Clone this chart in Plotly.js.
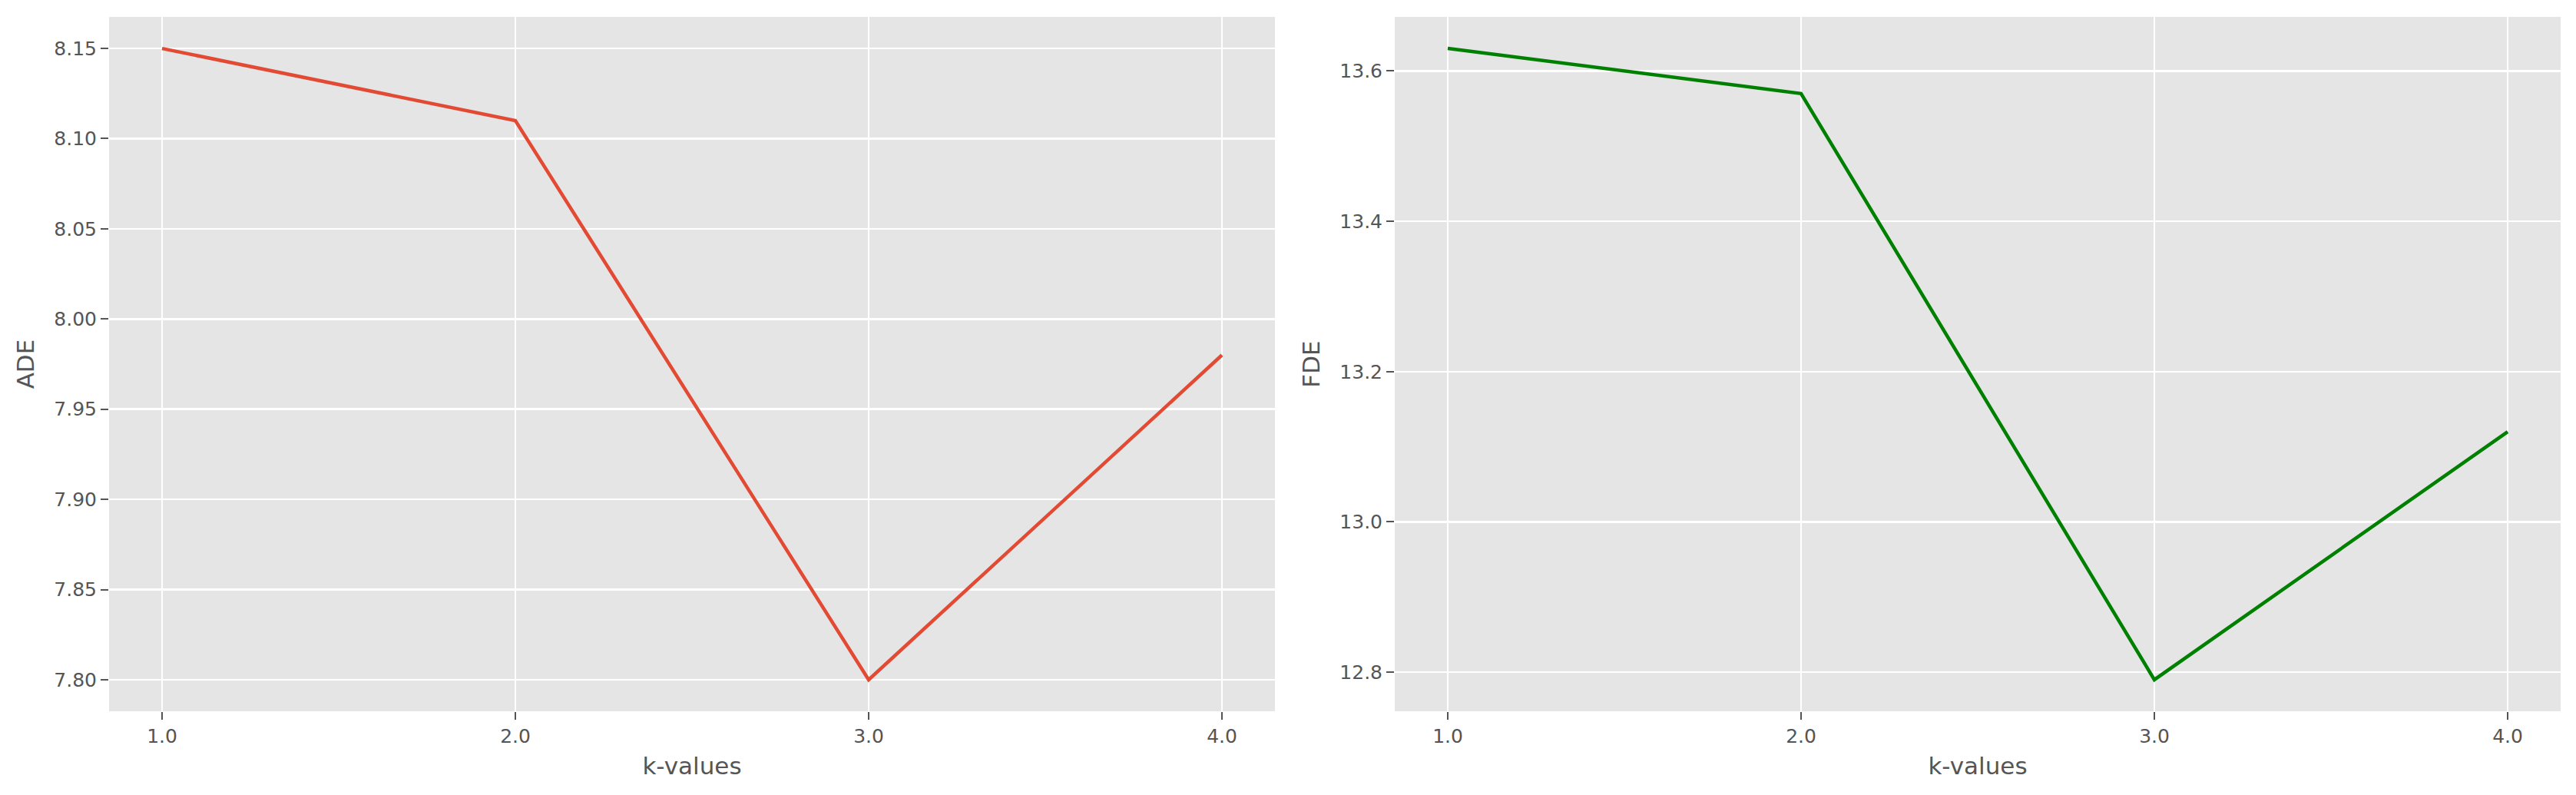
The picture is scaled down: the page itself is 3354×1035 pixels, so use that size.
<!DOCTYPE html>
<html>
<head>
<meta charset="utf-8">
<script src="https://cdn.plot.ly/plotly-3.0.1.min.js"></script>
<style>html,body{margin:0;padding:0;background:#fff;}#chart{width:3354px;height:1035px;}</style>
</head>
<body>
<div id="chart"></div>
<script>
const kValues = [1.0, 2.0, 3.0, 4.0];
const adeValues = [8.15, 8.11, 7.80, 7.98];
const fdeValues = [13.63, 13.57, 12.79, 13.12];
const xTicks = [1.0, 2.0, 3.0, 4.0];
const adeTicks = [7.80, 7.85, 7.90, 7.95, 8.00, 8.05, 8.10, 8.15];
const fdeTicks = [12.8, 13.0, 13.2, 13.4, 13.6];

const font = 'DejaVu Sans, sans-serif';
const grey = '#555555';

function pad(arr) {
  const mn = Math.min(...arr), mx = Math.max(...arr);
  const m = (mx - mn) * 0.05;
  return [mn - m, mx + m];
}

const traces = [
  {x: kValues, y: adeValues, type: 'scatter', mode: 'lines', line: {color: '#E24A33', width: 4.5}, xaxis: 'x', yaxis: 'y', showlegend: false},
  {x: kValues, y: fdeValues, type: 'scatter', mode: 'lines', line: {color: '#008000', width: 4.5}, xaxis: 'x2', yaxis: 'y2', showlegend: false}
];

function xax(domain, anchor) {
  return {
    domain: domain, anchor: anchor, range: pad(kValues),
    tickvals: xTicks, ticktext: xTicks.map(v => v.toFixed(1)),
    ticks: 'outside', ticklen: 10, tickwidth: 2, tickcolor: grey,
    tickfont: {family: font, size: 25, color: grey},
    showgrid: true, gridcolor: '#ffffff', gridwidth: 2.5,
    zeroline: false, showline: false,
    title: {text: 'k-values', font: {family: font, size: 31, color: grey}, standoff: 14}
  };
}
function yax(domain, anchor, ticks, digits, title, data) {
  return {
    domain: domain, anchor: anchor, range: pad(data),
    tickvals: ticks, ticktext: ticks.map(v => v.toFixed(digits)),
    ticks: 'outside', ticklen: 10, tickwidth: 2, tickcolor: grey,
    tickfont: {family: font, size: 25, color: grey},
    showgrid: true, gridcolor: '#ffffff', gridwidth: 2.5,
    zeroline: false, showline: false,
    title: {text: title, font: {family: font, size: 31, color: grey}, standoff: 16}
  };
}

const yDom = [1 - 926/1035, 1 - 22/1035];
const layout = {
  width: 3354, height: 1035,
  margin: {l: 0, r: 0, t: 0, b: 0},
  paper_bgcolor: '#ffffff',
  plot_bgcolor: '#E5E5E5',
  showlegend: false,
  xaxis: xax([142/3354, 1660/3354], 'y'),
  yaxis: yax(yDom, 'x', adeTicks, 2, 'ADE', adeValues),
  xaxis2: xax([1816/3354, 3334/3354], 'y2'),
  yaxis2: yax(yDom, 'x2', fdeTicks, 1, 'FDE', fdeValues)
};

Plotly.newPlot('chart', traces, layout, {displayModeBar: false, staticPlot: true});
</script>
</body>
</html>
